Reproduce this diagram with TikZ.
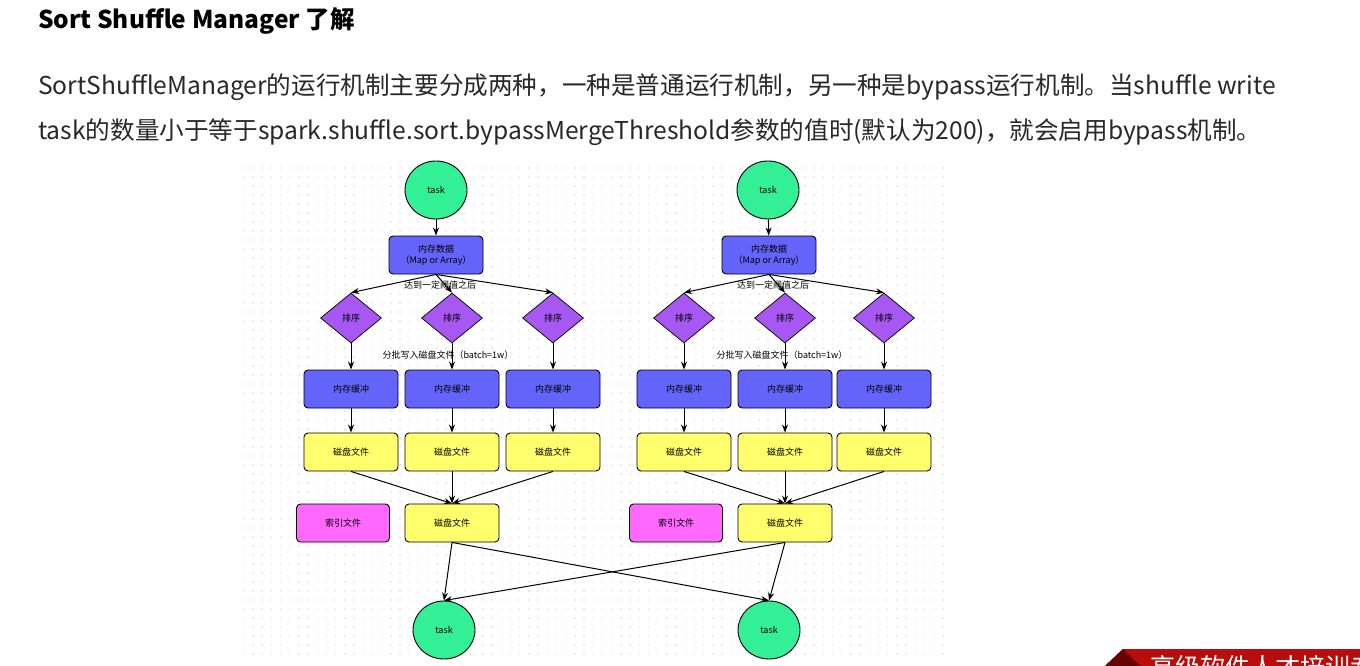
\documentclass[tikz,border=0pt]{standalone}
\usepackage{fontspec}
\setmainfont{Noto Sans CJK SC}
\usetikzlibrary{shapes.geometric,arrows.meta}
\definecolor{taskgreen}{RGB}{51,240,150}
\definecolor{memblue}{RGB}{100,100,250}
\definecolor{sortpurple}{RGB}{168,88,242}
\definecolor{fileyellow}{RGB}{255,255,110}
\definecolor{idxmagenta}{RGB}{255,105,255}
\definecolor{bannerred}{RGB}{185,12,12}
\definecolor{bannerdark}{RGB}{105,0,0}
\definecolor{textgray}{RGB}{40,40,40}
\begin{document}
\begin{tikzpicture}[x=1pt,y=-1pt,
  small/.style={font=\fontsize{9}{11}\selectfont},
  taskc/.style={ellipse,draw=black,line width=0.9pt,fill=taskgreen,minimum width=62pt,minimum height=58pt,inner sep=0pt,small},
  membox/.style={rectangle,rounded corners=4pt,draw=black,line width=0.9pt,fill=memblue,minimum width=94pt,minimum height=38pt,inner sep=0pt,small,align=center},
  sortd/.style={diamond,aspect=1.22,draw=black,line width=0.7pt,fill=sortpurple,minimum width=61pt,minimum height=50pt,inner sep=0pt,small},
  filebox/.style={rectangle,rounded corners=4pt,draw=black,line width=0.9pt,fill=fileyellow,minimum width=94pt,minimum height=38pt,inner sep=0pt,small},
  idxbox/.style={rectangle,rounded corners=4pt,draw=black,line width=0.9pt,fill=idxmagenta,minimum width=93pt,minimum height=38pt,inner sep=0pt,small},
  lbl/.style={inner sep=0pt,small},
  arr/.style={draw=black,line width=1pt,-{Stealth[length=8pt,width=6pt]}}
]
\useasboundingbox (0,0) rectangle (1360,666);
\fill[white] (0,0) rectangle (1360,666);
% dotted grid background of the diagram
\foreach \yy in {168,177,...,662}
  \draw[black!8,line width=1.3pt,dash pattern=on 1.3pt off 7.9pt] (243,\yy) -- (950,\yy);

% heading and paragraph
\node[anchor=west,inner sep=0pt,font=\fontsize{24.5}{28}\selectfont\bfseries] (title) at (38,21) {Sort Shuffle Manager 了解};
\node[anchor=west,inner sep=0pt,text=textgray,font=\fontsize{24.6}{28}\selectfont] (p1) at (38,87) {SortShuffleManager的运行机制主要分成两种，一种是普通运行机制，另一种是bypass运行机制。当shuffle write};
\node[anchor=west,inner sep=0pt,text=textgray,font=\fontsize{24.6}{28}\selectfont] (p2) at (38,132) {task的数量小于等于spark.shuffle.sort.bypassMergeThreshold参数的值时(默认为200)，就会启用bypass机制。};

% ---------- left group ----------
\node[taskc] (ta) at (436,190) {task};
\node[membox] (ma) at (436,255) {内存数据\\（Map or Array）};
\node[sortd] (da1) at (351,318) {排序};
\node[sortd] (da2) at (452,318) {排序};
\node[sortd] (da3) at (553,318) {排序};
\node[membox] (ba1) at (351,389) {内存缓冲};
\node[membox] (ba2) at (452,389) {内存缓冲};
\node[membox] (ba3) at (553,389) {内存缓冲};
\node[filebox] (fa1) at (351,452) {磁盘文件};
\node[filebox] (fa2) at (452,452) {磁盘文件};
\node[filebox] (fa3) at (553,452) {磁盘文件};
\node[idxbox] (ia) at (343,523) {索引文件};
\node[filebox] (ga) at (452,523) {磁盘文件};
\node[lbl] (la1) at (440,285) {达到一定阈值之后};
\node[lbl] (la2) at (448,355) {分批写入磁盘文件（batch=1w）};

% ---------- right group ----------
\node[taskc] (tb) at (768,190) {task};
\node[membox] (mb) at (769,255) {内存数据\\（Map or Array）};
\node[sortd] (db1) at (684,318) {排序};
\node[sortd] (db2) at (785,318) {排序};
\node[sortd] (db3) at (884,318) {排序};
\node[membox] (bb1) at (684,389) {内存缓冲};
\node[membox] (bb2) at (785,389) {内存缓冲};
\node[membox] (bb3) at (884,389) {内存缓冲};
\node[filebox] (fb1) at (684,452) {磁盘文件};
\node[filebox] (fb2) at (785,452) {磁盘文件};
\node[filebox] (fb3) at (884,452) {磁盘文件};
\node[idxbox] (ib) at (676,523) {索引文件};
\node[filebox] (gb) at (785,523) {磁盘文件};
\node[lbl] (lb1) at (773,285) {达到一定阈值之后};
\node[lbl] (lb2) at (782,355) {分批写入磁盘文件（batch=1w）};

% bottom tasks
\node[taskc] (ra) at (444,630) {task};
\node[taskc] (rb) at (769,630) {task};

% connectors
\draw[arr] (ta) -- (ma);
\draw[arr] (tb) -- (mb);
\foreach \i in {1,2,3} {
  \draw[arr] (ma.south) -- (da\i.north);
  \draw[arr] (da\i.south) -- (ba\i.north);
  \draw[arr] (ba\i.south) -- (fa\i.north);
  \draw[arr] (fa\i.south) -- (ga.north);
  \draw[arr] (mb.south) -- (db\i.north);
  \draw[arr] (db\i.south) -- (bb\i.north);
  \draw[arr] (bb\i.south) -- (fb\i.north);
  \draw[arr] (fb\i.south) -- (gb.north);
}
\draw[arr] (ga.south) -- (ra.north);
\draw[arr] (ga.south) -- (rb.north);
\draw[arr] (gb.south) -- (rb.north);
\draw[arr] (gb.south) -- (ra.north);

% red banner (cut off at the page edge, as in the reference)
\begin{scope}
  \clip (1105,666) -- (1123,649) -- (1360,649) -- (1360,666) -- cycle;
  \fill[bannerred] (1105,666) -- (1123,649) -- (1360,649) -- (1360,666) -- cycle;
  \fill[bannerdark] (1105,666) -- (1123,649) -- (1140,666) -- cycle;
  \node[anchor=west,inner sep=0pt,text=white,font=\fontsize{25}{28}\selectfont] (banner) at (1150,667) {高级软件人才培训专家};
\end{scope}
\end{tikzpicture}
\end{document}
